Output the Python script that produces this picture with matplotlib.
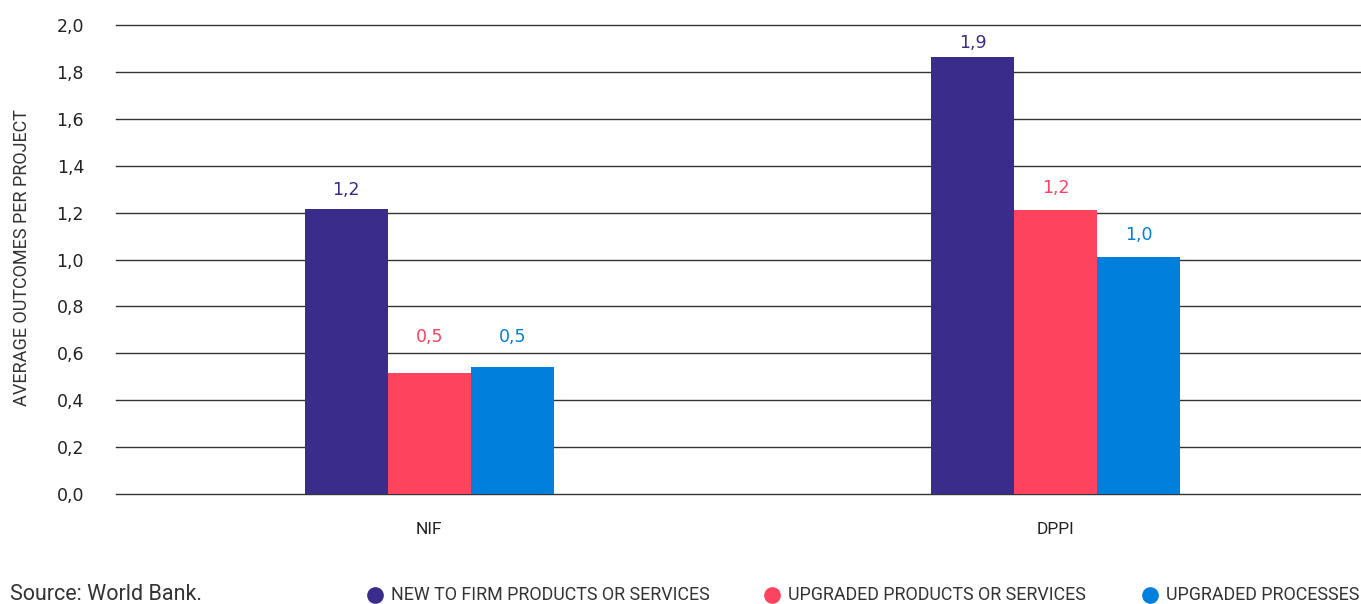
import matplotlib
matplotlib.use('Agg')
import matplotlib.pyplot as plt
import numpy as np
from matplotlib.lines import Line2D

plt.rcParams['font.family'] = ['Roboto', 'DejaVu Sans']

# Data
groups = ['NIF', 'DPPI']
series = ['NEW TO FIRM PRODUCTS OR SERVICES', 'UPGRADED PRODUCTS OR SERVICES', 'UPGRADED PROCESSES']
values = {
    'NEW TO FIRM PRODUCTS OR SERVICES': [1.215, 1.863],
    'UPGRADED PRODUCTS OR SERVICES': [0.516, 1.211],
    'UPGRADED PROCESSES': [0.541, 1.01],
}
colors = ['#392C8A', '#FE435E', '#0080DC']
yticks = [0.0, 0.2, 0.4, 0.6, 0.8, 1.0, 1.2, 1.4, 1.6, 1.8, 2.0]

# label lift above each bar (points), per series, per group
label_lift = [[13.5, 10.5], [26, 16], [21.5, 16]]

fig = plt.figure(figsize=(13.61, 6.04), dpi=100)
ax = fig.add_axes([0.0852, 0.1821, 0.9206, 0.7765])

num_font = ['DejaVu Sans']
x = np.arange(len(groups))
w = 0.1325
for i, (name, col) in enumerate(zip(series, colors)):
    xs = x + (i - 1) * w
    vals = values[name]
    ax.bar(xs, vals, width=w, color=col, zorder=3)
    for xi, v, lift in zip(xs, vals, label_lift[i]):
        ax.annotate(f"{v:.1f}".replace('.', ','), (xi, v), xytext=(0, lift),
                    textcoords='offset points', ha='center', va='center',
                    color=col, fontsize=12.5, family=num_font)

ax.set_xlim(-0.5, 1.5)
ax.set_ylim(0, 2.0)
ax.set_yticks(yticks)
ax.set_yticklabels([f"{t:.1f}".replace('.', ',') for t in yticks],
                   fontsize=12.5, color='#222222', family=num_font)
ax.set_xticks(x)
ax.set_xticklabels(groups, fontsize=12.5, color='#222222')
ax.tick_params(axis='both', length=0)
ax.tick_params(axis='y', pad=23)
ax.tick_params(axis='x', pad=20)
ax.grid(axis='y', color='#333333', linewidth=1.0, zorder=0)
for gl in ax.get_ygridlines():
    gl.set_clip_on(False)
for s in ax.spines.values():
    s.set_visible(False)
ax.set_ylabel('AVERAGE OUTCOMES PER PROJECT', fontsize=13, color='#333333')
ax.yaxis.set_label_coords(-0.068, 0.505)

# Source note and legend row
fig.text(10 / 1361, 1 - 595 / 604, 'Source: World Bank.', fontsize=15.5, color='#333333',
         ha='left', va='center')
legend_x = [375, 772, 1150]
for name, col, lx in zip(series, colors, legend_x):
    fig.add_artist(Line2D([lx / 1361], [1 - 595 / 604], marker='o', markersize=11,
                          color=col, linestyle='none', transform=fig.transFigure))
    fig.text((lx + 16) / 1361, 1 - 595 / 604, name, fontsize=12.9, color='#333333',
             ha='left', va='center')

fig.savefig('out.png', dpi=100, facecolor='white')
